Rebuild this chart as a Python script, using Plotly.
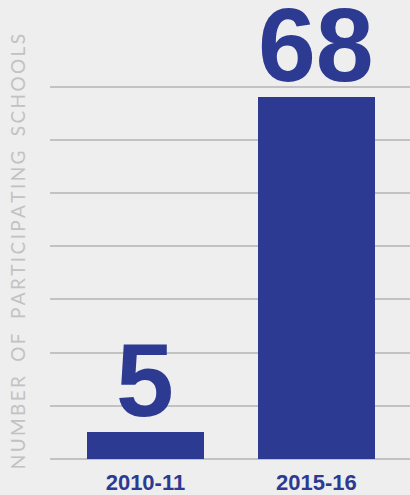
import plotly.graph_objects as go

categories = ["2010-11", "2015-16"]
values = [5, 68]
value_labels = ["5", "68"]
y_title = "NUMBER OF PARTICIPATING SCHOOLS"

BLUE = "#2d3a91"
BG = "#eeeeee"
GRID = "#c2c2c2"

fig = go.Figure()
fig.add_trace(go.Bar(
    x=list(range(len(categories))), y=values,
    marker=dict(color=BLUE, line=dict(width=0)),
    width=0.684,
    hoverinfo="skip",
))

for i, (v, lab) in enumerate(zip(values, value_labels)):
    fig.add_annotation(
        x=i, y=v, xref="x", yref="y", text=lab, showarrow=False,
        yanchor="bottom", xanchor="center", yshift=-8,
        font=dict(family="Liberation Sans", size=104, color=BLUE, weight="bold"),
    )

spaced = "\u2009".join(list(y_title)).replace("\u2009 \u2009", "\u2009\u2009 \u2009\u2009")
fig.add_annotation(
    x=-0.0917, y=0.554, xref="paper", yref="paper", text=spaced,
    showarrow=False, textangle=-90, xanchor="center", yanchor="middle",
    font=dict(family="Lato", size=19, color="#c2c2c2"),
)

fig.update_layout(
    width=410, height=495,
    margin=dict(l=50, r=0, t=84, b=36, pad=0),
    paper_bgcolor=BG, plot_bgcolor=BG,
    showlegend=False,
    bargap=0,
    xaxis=dict(
        range=[-0.558, 1.547],
        tickmode="array", tickvals=list(range(len(categories))), ticktext=categories,
        showgrid=False, zeroline=False, showline=False, ticks="",
        ticklabelstandoff=8,
        tickfont=dict(family="Liberation Sans", size=22, color=BLUE, weight="bold"),
    ),
    yaxis=dict(
        range=[0, 70.5], tickmode="array", tickvals=[10, 20, 30, 40, 50, 60, 70],
        showticklabels=False, ticks="",
        showgrid=True, gridcolor=GRID, gridwidth=1.5,
        zeroline=True, zerolinecolor=GRID, zerolinewidth=1.5, showline=False,
    ),
)

fig.write_html("out.html")
